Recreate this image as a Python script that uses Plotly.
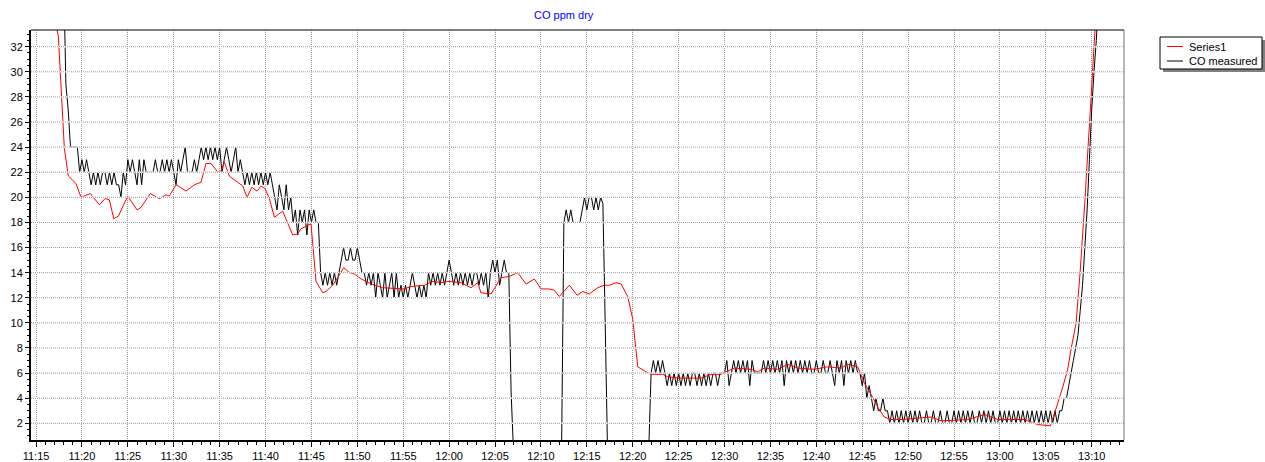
import pandas as pd
import plotly.graph_objects as go

DAY = "2000-01-01 "

title_text = "CO ppm dry"
series1_name = "Series1"
measured_name = "CO measured"

# Series1: (time, ppm) vertices
series1_points = [
    ("11:16:45", 37.0), ("11:17:10", 33.8), ("11:17:26", 32.8), ("11:18:05", 23.9), ("11:18:31", 21.7),
    ("11:19:21", 21.1), ("11:19:54", 20.0), ("11:20:55", 20.3), ("11:21:54", 19.4), ("11:22:31", 19.9),
    ("11:22:59", 19.8), ("11:23:28", 18.3), ("11:23:58", 18.5), ("11:24:59", 20.1), ("11:26:00", 19.0),
    ("11:26:26", 19.2), ("11:27:27", 20.3), ("11:28:26", 19.9), ("11:29:10", 20.2), ("11:29:31", 20.1),
    ("11:30:15", 21.0), ("11:30:43", 20.8), ("11:31:20", 20.5), ("11:32:15", 21.0), ("11:32:58", 21.2),
    ("11:33:31", 22.7), ("11:34:04", 22.7), ("11:34:48", 22.0), ("11:35:09", 22.1), ("11:35:31", 22.8),
    ("11:36:03", 21.7), ("11:36:47", 21.3), ("11:37:31", 20.9), ("11:37:59", 20.0), ("11:38:30", 20.8),
    ("11:39:04", 20.5), ("11:39:31", 20.9), ("11:39:57", 20.7), ("11:40:25", 19.9), ("11:40:58", 18.4),
    ("11:41:52", 18.9), ("11:42:58", 17.0), ("11:43:30", 17.1), ("11:43:52", 17.5), ("11:44:57", 17.9),
    ("11:45:30", 13.3), ("11:46:14", 12.4), ("11:46:35", 12.5), ("11:47:19", 13.0), ("11:47:56", 13.7),
    ("11:48:31", 14.4), ("11:49:08", 14.0), ("11:49:40", 13.9), ("11:50:24", 13.5), ("11:51:30", 13.1),
    ("11:52:46", 12.8), ("11:55:07", 12.7), ("11:55:51", 12.9), ("11:57:18", 13.0), ("11:58:13", 13.3),
    ("11:59:07", 13.2), ("11:59:51", 13.3), ("12:01:18", 13.2), ("12:02:23", 12.8), ("12:03:07", 13.2),
    ("12:03:28", 12.4), ("12:04:34", 12.3), ("12:05:39", 13.6), ("12:06:34", 13.7), ("12:07:28", 14.0),
    ("12:08:23", 13.1), ("12:09:17", 13.5), ("12:10:01", 12.7), ("12:10:55", 12.7), ("12:11:28", 12.6),
    ("12:12:00", 12.1), ("12:13:06", 13.0), ("12:13:56", 12.2), ("12:14:33", 12.5), ("12:15:16", 12.3),
    ("12:16:11", 12.8), ("12:16:54", 13.0), ("12:17:27", 13.0), ("12:18:11", 13.2), ("12:18:44", 13.1),
    ("12:19:27", 12.1), ("12:20:00", 10.3), ("12:20:33", 6.5), ("12:21:27", 6.1), ("12:22:00", 5.9),
    ("12:23:16", 5.9), ("12:23:49", 5.7), ("12:25:16", 5.6), ("12:27:26", 5.6), ("12:28:32", 5.9),
    ("12:29:37", 5.9), ("12:30:10", 6.1), ("12:31:04", 6.4), ("12:32:53", 6.3), ("12:33:37", 6.1),
    ("12:34:20", 6.4), ("12:35:48", 6.3), ("12:36:53", 6.7), ("12:37:59", 6.4), ("12:39:47", 6.3),
    ("12:41:15", 6.5), ("12:42:42", 6.4), ("12:43:25", 6.7), ("12:44:31", 6.5), ("12:45:14", 5.2),
    ("12:45:58", 4.3), ("12:46:41", 3.3), ("12:47:24", 2.5), ("12:48:08", 2.3), ("12:49:14", 2.3),
    ("12:52:30", 2.5), ("12:53:35", 2.2), ("12:56:30", 2.3), ("12:58:20", 2.7), ("12:59:47", 2.3),
    ("13:02:40", 2.3), ("13:04:07", 1.9), ("13:05:30", 1.8), ("13:06:18", 3.6), ("13:06:51", 4.9),
    ("13:07:23", 6.3), ("13:07:45", 7.9), ("13:08:18", 10.0), ("13:08:44", 14.0), ("13:09:17", 20.0),
    ("13:09:36", 24.0), ("13:09:56", 28.0), ("13:10:15", 32.0), ("13:10:35", 36.0),
]

# CO measured: one reading every 15 s starting at measured_start, one row per minute
measured_start = "11:18:00"
measured_step_s = 15
measured_ppm = [
    38, 29, 27, 24,   # 11:18
    24, 24, 24, 22,   # 11:19
    23, 22, 23, 22,   # 11:20
    21, 22, 21, 22,   # 11:21
    21, 22, 22, 21,   # 11:22
    22, 21, 22, 21,   # 11:23
    21, 20, 22, 21,   # 11:24
    23, 22, 23, 22,   # 11:25
    21, 23, 21, 23,   # 11:26
    22, 22, 22, 22,   # 11:27
    23, 22, 22, 23,   # 11:28
    22, 23, 22, 23,   # 11:29
    22, 21, 23, 22,   # 11:30
    23, 24, 22, 22,   # 11:31
    22, 23, 22, 23,   # 11:32
    24, 23, 24, 23,   # 11:33
    24, 23, 24, 23,   # 11:34
    24, 22, 23, 24,   # 11:35
    23, 22, 23, 24,   # 11:36
    22, 23, 22, 21,   # 11:37
    22, 21, 22, 21,   # 11:38
    22, 21, 22, 21,   # 11:39
    22, 21, 22, 21,   # 11:40
    20, 19, 21, 20,   # 11:41
    19, 21, 19, 20,   # 11:42
    18, 19, 17, 19,   # 11:43
    18, 19, 17, 19,   # 11:44
    18, 19, 18, 18,   # 11:45
    14, 13, 14, 13,   # 11:46
    14, 13, 14, 13,   # 11:47
    14, 15, 16, 15,   # 11:48
    15, 16, 15, 15,   # 11:49
    16, 15, 14, 14,   # 11:50
    13, 14, 13, 14,   # 11:51
    12, 14, 13, 12,   # 11:52
    14, 12, 13, 14,   # 11:53
    12, 14, 12, 13,   # 11:54
    12, 13, 12, 13,   # 11:55
    14, 13, 12, 13,   # 11:56
    12, 13, 12, 14,   # 11:57
    13, 14, 13, 14,   # 11:58
    13, 14, 13, 14,   # 11:59
    15, 14, 13, 14,   # 12:00
    13, 14, 13, 14,   # 12:01
    13, 14, 13, 14,   # 12:02
    14, 13, 14, 13,   # 12:03
    14, 12, 14, 15,   # 12:04
    14, 15, 13, 14,   # 12:05
    15, 14, 14, 4.5,  # 12:06
    0, 0, 0, 0,       # 12:07
    0, 0, 0, 0,       # 12:08
    0, 0, 0, 0,       # 12:09
    0, 0, 0, 0,       # 12:10
    0, 0, 0, 0,       # 12:11
    0, 0, 18, 19,     # 12:12
    18, 19, 18, 18,   # 12:13
    18, 18, 19, 20,   # 12:14
    19, 20, 20, 19,   # 12:15
    20, 19, 20, 19.5, # 12:16
    10, 0, 0, 0,      # 12:17
    0, 0, 0, 0,       # 12:18
    0, 0, 0, 0,       # 12:19
    0, 0, 0, 0,       # 12:20
    0, 0, 0, 0,       # 12:21
    6, 7, 6, 7,       # 12:22
    6, 7, 6, 5,       # 12:23
    6, 5, 6, 5,       # 12:24
    6, 5, 6, 5,       # 12:25
    6, 5, 6, 6,       # 12:26
    5, 6, 5, 6,       # 12:27
    5, 6, 5, 6,       # 12:28
    6, 5, 6, 6,       # 12:29
    6, 7, 5, 6,       # 12:30
    7, 6, 7, 6,       # 12:31
    7, 6, 7, 5,       # 12:32
    7, 6, 6, 6,       # 12:33
    6, 7, 6, 7,       # 12:34
    6, 7, 6, 7,       # 12:35
    6, 7, 5, 7,       # 12:36
    6, 7, 6, 7,       # 12:37
    6, 7, 6, 7,       # 12:38
    6, 7, 6, 6,       # 12:39
    7, 6, 6, 7,       # 12:40
    6, 6, 7, 6,       # 12:41
    5, 7, 6, 7,       # 12:42
    5, 7, 6, 7,       # 12:43
    6, 7, 6, 6,       # 12:44
    5, 6, 4, 5,       # 12:45
    4, 3, 4, 3,       # 12:46
    3, 4, 3, 3,       # 12:47
    2, 3, 2, 3,       # 12:48
    2, 3, 2, 3,       # 12:49
    2, 3, 2, 3,       # 12:50
    2, 3, 2, 2,       # 12:51
    3, 2, 2, 3,       # 12:52
    2, 2, 3, 2,       # 12:53
    2, 3, 2, 2,       # 12:54
    3, 2, 3, 2,       # 12:55
    3, 2, 3, 2,       # 12:56
    3, 2, 2, 3,       # 12:57
    2, 3, 2, 3,       # 12:58
    2, 3, 2, 2,       # 12:59
    3, 2, 3, 2,       # 13:00
    3, 2, 3, 2,       # 13:01
    3, 2, 3, 2,       # 13:02
    3, 2, 3, 2,       # 13:03
    3, 2, 3, 2,       # 13:04
    3, 2, 3, 2,       # 13:05
    3, 2, 3, 3,       # 13:06
    4, 4, 5, 6,       # 13:07
    7, 8, 9, 11,      # 13:08
    13, 16, 19, 23,   # 13:09
    27, 30, 32.5, 36, # 13:10
]

y_ticks = list(range(2, 33, 2))
y_range = [0.67, 33.33]
x_range = ["11:14:27", "13:13:31"]

# ---- geometry of the page
W, H = 1265, 462
L, R, T, B = 31, 141, 30, 22
PW, PH = W - L - R, H - T - B


def px_x(p):
    return (p - L) / PW


def px_y(p):
    return (H - B - p) / PH


s1_x = [DAY + t for t, _ in series1_points]
s1_y = [v for _, v in series1_points]
m_x = pd.date_range(DAY + measured_start, periods=len(measured_ppm), freq=f"{measured_step_s}s")
m_y = measured_ppm

FONT = "Liberation Sans, Arial, sans-serif"

fig = go.Figure()
fig.add_trace(go.Scatter(x=m_x, y=m_y, mode="lines", name=measured_name, showlegend=False,
                         line=dict(color="#000000", width=1, simplify=False), hoverinfo="skip"))
fig.add_trace(go.Scatter(x=s1_x, y=s1_y, mode="lines", name=series1_name, showlegend=False,
                         line=dict(color="#ff0000", width=1, simplify=False), hoverinfo="skip"))

shapes = []
# horizontal grid drawn over the series (white underlay + dotted grey)
for v in y_ticks:
    shapes.append(dict(type="line", xref="paper", yref="y", x0=0, x1=1, y0=v, y1=v,
                       line=dict(color="#ffffff", width=1.4), layer="above"))
    shapes.append(dict(type="line", xref="paper", yref="y", x0=0, x1=1, y0=v, y1=v,
                       line=dict(color="#9a9a9a", width=1, dash="1px,1px"), layer="above"))
# top and right frame
shapes.append(dict(type="line", xref="paper", yref="paper", x0=0, x1=1, y0=1, y1=1,
                   line=dict(color="#000000", width=1), layer="above"))
shapes.append(dict(type="line", xref="paper", yref="paper", x0=1, x1=1, y0=0, y1=1,
                   line=dict(color="#707070", width=1), layer="above"))

# legend box with drop shadow
lx0, lx1, ly0, ly1 = 1160, 1262, 37, 69
shapes.append(dict(type="rect", xref="paper", yref="paper",
                   x0=px_x(lx0 + 3), x1=px_x(lx1 + 3), y0=px_y(ly0 + 3), y1=px_y(ly1 + 3),
                   line=dict(width=0), fillcolor="#808080", layer="above"))
shapes.append(dict(type="rect", xref="paper", yref="paper",
                   x0=px_x(lx0), x1=px_x(lx1), y0=px_y(ly0), y1=px_y(ly1),
                   line=dict(color="#000000", width=1), fillcolor="#ffffff", layer="above"))
legend_rows = [(series1_name, "#ff0000", 46.5), (measured_name, "#000000", 61)]
annotations = []
for name, col, ry in legend_rows:
    shapes.append(dict(type="line", xref="paper", yref="paper",
                       x0=px_x(1167), x1=px_x(1183), y0=px_y(ry), y1=px_y(ry),
                       line=dict(color=col, width=1), layer="above"))
    annotations.append(dict(text=name, xref="paper", yref="paper", x=px_x(1187), y=px_y(ry),
                            xanchor="left", yanchor="middle", showarrow=False,
                            font=dict(family=FONT, size=11, color="#000000")))

annotations.append(dict(text=title_text, xref="paper", yref="paper", x=px_x(564), y=px_y(15),
                        xanchor="center", yanchor="middle", showarrow=False,
                        font=dict(family=FONT, size=11, color="#0000ff")))

fig.update_layout(
    width=W, height=H, margin=dict(l=L, r=R, t=T, b=B, pad=0, autoexpand=False),
    paper_bgcolor="#ffffff", plot_bgcolor="#ffffff",
    showlegend=False, shapes=shapes, annotations=annotations,
    font=dict(family=FONT, size=11, color="#000000"),
    xaxis=dict(type="date", range=[DAY + x_range[0], DAY + x_range[1]], automargin=False,
               tick0=DAY + "11:15", dtick=300000, tickformat="%H:%M",
               ticks="outside", ticklen=5, tickwidth=1, tickcolor="#000000",
               showline=True, linecolor="#000000", linewidth=2,
               showgrid=True, gridcolor="#9a9a9a", gridwidth=1, griddash="1px,1px",
               zeroline=False, fixedrange=True,
               minor=dict(dtick=60000, ticks="outside", ticklen=3, tickcolor="#000000", showgrid=False),
               tickfont=dict(family=FONT, size=11, color="#000000")),
    yaxis=dict(range=y_range, tickvals=y_ticks, ticks="outside", ticklen=4, tickwidth=1,
               automargin=False,
               tickcolor="#000000", showline=True, linecolor="#000000", linewidth=2,
               showgrid=False, zeroline=False, fixedrange=True,
               minor=dict(dtick=0.5, ticks="outside", ticklen=2, tickcolor="#000000", showgrid=False),
               tickfont=dict(family=FONT, size=11, color="#000000")),
)

fig.write_html("out.html")
